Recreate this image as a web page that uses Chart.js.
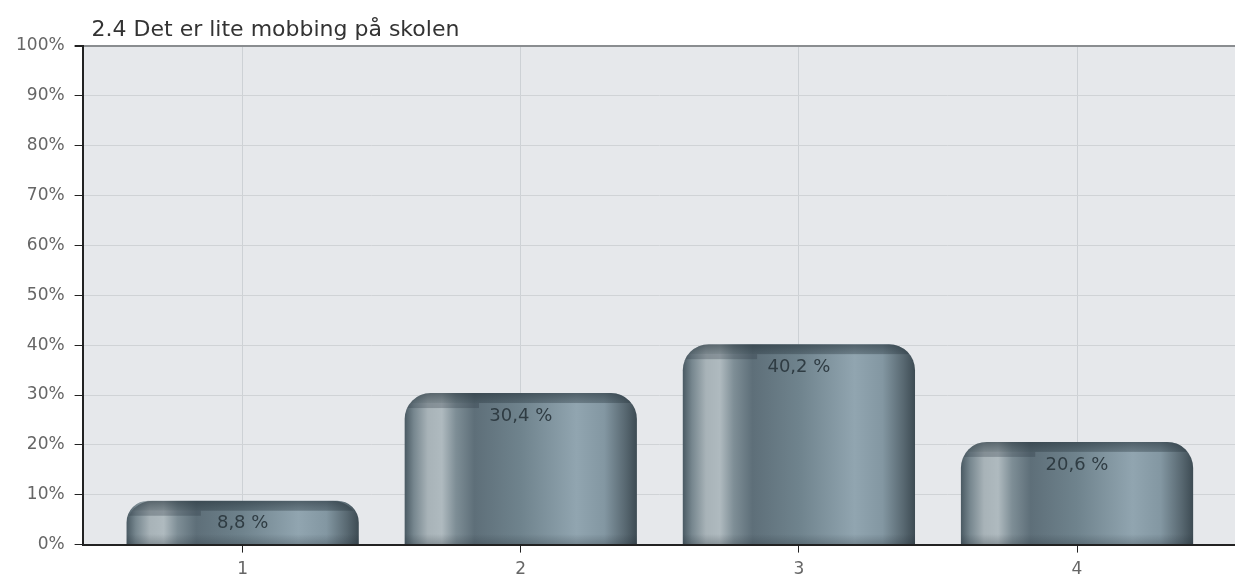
<!DOCTYPE html>
<html>
<head>
<meta charset="utf-8">
<script src="https://cdn.jsdelivr.net/npm/chart.js@4/dist/chart.umd.min.js"></script>
<style>
  html, body { margin: 0; padding: 0; background: #fff; }
  #wrap { width: 1235px; height: 581px; }
</style>
</head>
<body>
<div id="wrap"><canvas id="chart"></canvas></div>
<script>
const titleText = '2.4 Det er lite mobbing på skolen';
const categories = ['1', '2', '3', '4'];
const values = [8.8, 30.4, 40.2, 20.6];
const yTicks = [0, 10, 20, 30, 40, 50, 60, 70, 80, 90, 100];

const FONT = "'DejaVu Sans', 'Liberation Sans', Arial, sans-serif";
const BAR_PCT = 0.835;
const RADIUS = 26;

// horizontal "cylinder" gradient for each bar
function barFill(c) {
  const chart = c.chart;
  const xs = chart.scales.x;
  if (!chart.chartArea || !xs) return '#6b7f8a';
  const cx = xs.getPixelForValue(c.dataIndex + 1);
  const half = (xs.getPixelForValue(2) - xs.getPixelForValue(1)) * BAR_PCT / 2;
  const g = chart.ctx.createLinearGradient(cx - half, 0, cx + half, 0);
  g.addColorStop(0.00, '#4a5a63');
  g.addColorStop(0.04, '#77878f');
  g.addColorStop(0.10, '#a8b3b8');
  g.addColorStop(0.16, '#afbabf');
  g.addColorStop(0.22, '#7e8e96');
  g.addColorStop(0.30, '#5e6f79');
  g.addColorStop(0.50, '#6f838d');
  g.addColorStop(0.74, '#91a5b0');
  g.addColorStop(0.86, '#8397a2');
  g.addColorStop(0.95, '#586871');
  g.addColorStop(1.00, '#3d4b53');
  return g;
}

const plotBg = {
  id: 'plotBg',
  beforeDraw(chart) {
    const {ctx, chartArea: a} = chart;
    ctx.save();
    ctx.fillStyle = '#e6e8eb';
    ctx.fillRect(a.left, a.top, a.right - a.left, a.bottom - a.top);
    ctx.restore();
  }
};

const titleDraw = {
  id: 'titleDraw',
  afterDraw(chart) {
    const {ctx, chartArea: a} = chart;
    ctx.save();
    ctx.font = '22px ' + FONT;
    ctx.fillStyle = '#333';
    ctx.textAlign = 'left';
    ctx.textBaseline = 'middle';
    ctx.fillText(titleText, a.left + 9, 30);
    ctx.restore();
  }
};

const barDecor = {
  id: 'barDecor',
  afterDatasetsDraw(chart) {
    const {ctx} = chart;
    const meta = chart.getDatasetMeta(0);
    meta.data.forEach((bar, i) => {
      const left = bar.x - bar.width / 2;
      const w = bar.width;
      const top = bar.y;
      const h = bar.base - bar.y;
      ctx.save();
      ctx.beginPath();
      ctx.roundRect(left, top, w, h, [RADIUS, RADIUS, 0, 0]);
      ctx.clip();
      // dark top cap
      const gc = ctx.createLinearGradient(0, top, 0, top + 10);
      gc.addColorStop(0, 'rgba(35,48,56,0.6)');
      gc.addColorStop(1, 'rgba(38,52,60,0.35)');
      ctx.fillStyle = gc;
      ctx.fillRect(left, top, w, 10);
      ctx.fillStyle = 'rgba(38,52,60,0.28)';
      ctx.fillRect(left, top + 10, w * 0.32, 5);
      // slight darkening at the foot
      const gb = ctx.createLinearGradient(0, bar.base - 10, 0, bar.base);
      gb.addColorStop(0, 'rgba(30,40,48,0)');
      gb.addColorStop(1, 'rgba(30,40,48,0.25)');
      ctx.fillStyle = gb;
      ctx.fillRect(left, bar.base - 10, w, 10);
      ctx.restore();

      // value label
      ctx.save();
      ctx.font = '18px ' + FONT;
      ctx.fillStyle = '#2f3c43';
      ctx.textAlign = 'center';
      ctx.textBaseline = 'middle';
      ctx.fillText(String(values[i]).replace('.', ',') + ' %', bar.x, top + 23);
      ctx.restore();
    });
  }
};

function initChart() {
  const ctx = document.getElementById('chart').getContext('2d');
  new Chart(ctx, {
    type: 'bar',
    data: {
      datasets: [{
        data: values.map((v, i) => ({x: i + 1, y: v})),
        backgroundColor: barFill,
        borderWidth: 0,
        borderRadius: {topLeft: RADIUS, topRight: RADIUS, bottomLeft: 0, bottomRight: 0},
        borderSkipped: 'bottom',
        categoryPercentage: 1,
        barPercentage: BAR_PCT
      }]
    },
    options: {
      responsive: true,
      maintainAspectRatio: false,
      animation: false,
      layout: {padding: {left: 6, right: 0, top: 46, bottom: -6}},
      plugins: {
        legend: {display: false},
        tooltip: {enabled: false},
        title: {display: false}
      },
      scales: {
        x: {
          type: 'linear',
          offset: false,
          min: 0.4245,
          max: 4.568,
          afterBuildTicks: (s) => { s.ticks = categories.map((c, i) => ({value: i + 1})); },
          ticks: {
            color: '#666',
            font: {family: FONT, size: 17},
            padding: 7,
            callback: (v) => categories[v - 1]
          },
          grid: {offset: false, color: '#cdd1d5', tickColor: '#222', tickLength: 8, lineWidth: 1},
          border: {color: '#222', width: 2}
        },
        y: {
          min: 0,
          max: 100,
          afterBuildTicks: (s) => { s.ticks = yTicks.map(v => ({value: v})); },
          ticks: {
            color: '#666',
            font: {family: FONT, size: 17},
            padding: 10,
            callback: (v) => v + '%'
          },
          grid: {
            color: (c) => c.tick && c.tick.value === 100 ? '#8a8d90' : '#d0d3d6',
            lineWidth: (c) => c.tick && c.tick.value === 100 ? 2 : 1,
            tickColor: '#222',
            tickLength: 8
          },
          border: {color: '#222', width: 2}
        }
      }
    },
    plugins: [plotBg, barDecor, titleDraw]
  });
}

window.addEventListener('load', initChart);
</script>
</body>
</html>
